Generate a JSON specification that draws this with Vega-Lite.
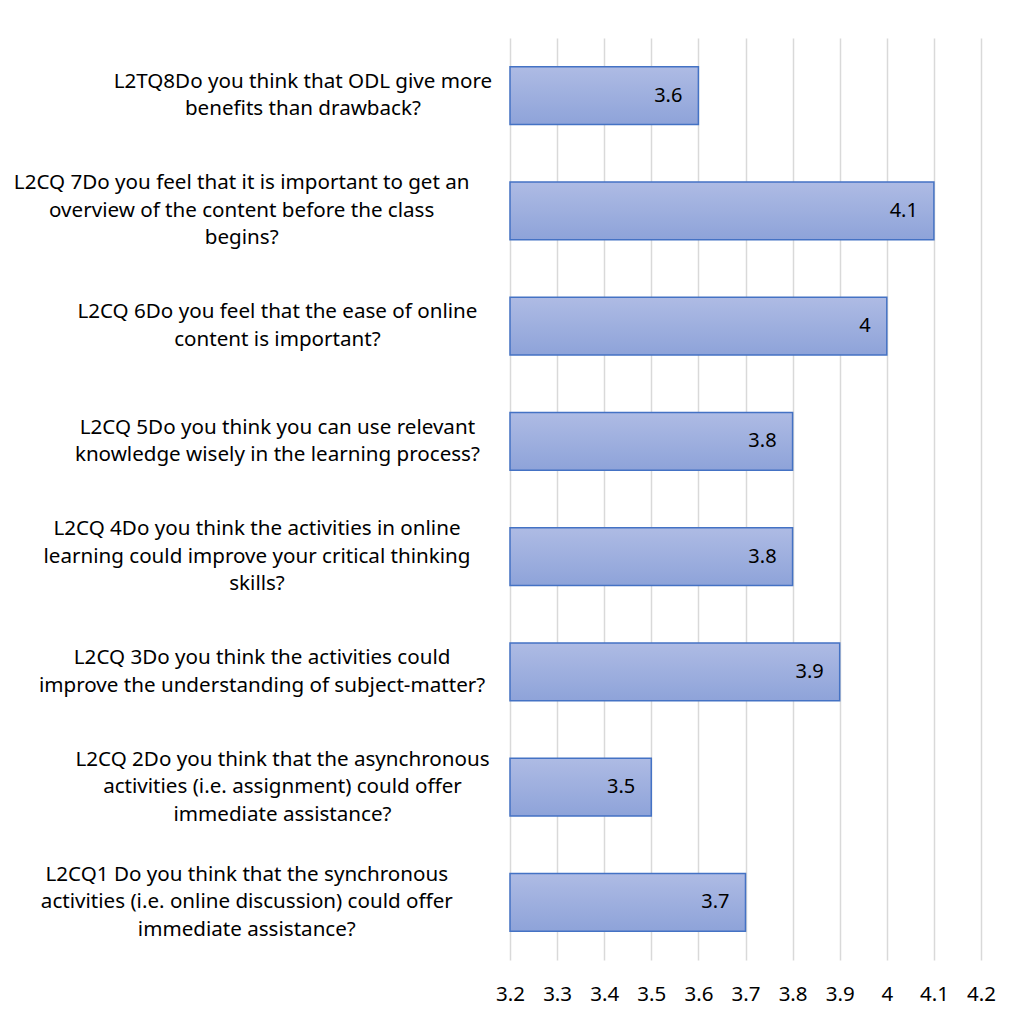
{
  "$schema": "https://vega.github.io/schema/vega-lite/v6.json",
  "width": 471,
  "height": 922,
  "autosize": {"type": "none"},
  "padding": {"left": 510, "top": 38, "right": 31, "bottom": 54},
  "background": "white",
  "config": {"view": {"stroke": null}, "font": "Noto Sans"},
  "data": {"values": [
    {"q": "L2TQ8Do you think that ODL give more|benefits than drawback?", "v": 3.6},
    {"q": "L2CQ 7Do you feel that it is important to get an|overview of the content before the class|begins?", "v": 4.1},
    {"q": "L2CQ 6Do you feel that the ease of online|content is important?", "v": 4.0},
    {"q": "L2CQ 5Do you think you can use relevant|knowledge wisely in the learning process?", "v": 3.8},
    {"q": "L2CQ 4Do you think the activities in online|learning could improve your critical thinking|skills?", "v": 3.8},
    {"q": "L2CQ 3Do you think the activities could|improve the understanding of subject-matter?", "v": 3.9},
    {"q": "L2CQ 2Do you think that the asynchronous|activities (i.e. assignment) could offer|immediate assistance?", "v": 3.5},
    {"q": "L2CQ1 Do you think that the synchronous|activities (i.e. online discussion) could offer|immediate assistance?", "v": 3.7}
  ]},
  "encoding": {
    "y": {"field": "q", "type": "nominal", "sort": null,
      "scale": {"paddingInner": 0.5, "paddingOuter": 0.25},
      "axis": {"title": null, "domain": false, "ticks": false, "grid": false,
        "labelExpr": "split(datum.value, '|')",
        "labelFontSize": 20.6, "labelColor": "#000000", "labelAlign": "center", "labelBaseline": "middle",
        "labelLineHeight": 27.5, "labelPadding": 24, "labelLimit": 0,
        "encoding": {"labels": {
          "dx": {"value": {"expr": "-5.1*max(length(split(datum.value,'|')[0]), length(split(datum.value,'|')[1] || ''), length(split(datum.value,'|')[2] || ''))"}},
          "dy": {"value": {"expr": "-13.75*(length(split(datum.value,'|'))-1)"}}
        }}
      }},
    "x": {"field": "v", "type": "quantitative",
      "scale": {"domain": [3.2, 4.2], "zero": false, "nice": false},
      "axis": {"title": null, "domain": false, "ticks": false, "grid": true,
        "gridColor": "#d9d9d9", "gridWidth": 1.5, "labelFlush": false,
        "values": [3.2, 3.3, 3.4, 3.5, 3.6, 3.7, 3.8, 3.9, 4.0, 4.1, 4.2],
        "format": "~g", "labelFontSize": 20.5, "labelColor": "#000000", "labelPadding": 24}}
  },
  "layer": [
    {"mark": {"type": "bar", "stroke": "#4472c4", "strokeWidth": 1.5,
      "color": {"gradient": "linear", "x1": 0, "y1": 0, "x2": 0, "y2": 1,
        "stops": [{"offset": 0, "color": "#aebbe4"}, {"offset": 1, "color": "#8ea3d9"}]}},
     "encoding": {"x2": {"datum": 3.2}}},
    {"mark": {"type": "text", "align": "right", "baseline": "middle", "dx": -16, "fontSize": 20, "color": "#000000"},
     "encoding": {"text": {"field": "v", "type": "quantitative", "format": "~g"}}}
  ]
}
